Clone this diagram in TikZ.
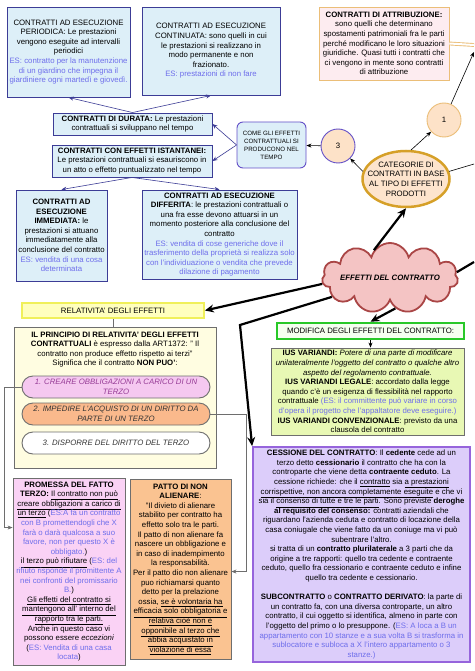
\documentclass[tikz,border=0pt]{standalone}
\usepackage{fontspec}
\setmainfont{Liberation Sans}
\usetikzlibrary{arrows.meta, shapes.geometric, shapes.symbols}
\definecolor{boxfill}{RGB}{221,239,248}
\definecolor{boxline}{RGB}{60,60,150}
\definecolor{esblue}{RGB}{110,110,235}
\definecolor{attrfill}{RGB}{253,236,240}
\definecolor{attrline}{RGB}{235,190,120}
\definecolor{bubblefill}{RGB}{253,226,200}
\definecolor{bubbleblue}{RGB}{100,80,200}
\definecolor{catline}{RGB}{214,160,40}
\definecolor{catfill}{RGB}{253,228,205}
\definecolor{cloudfill}{RGB}{244,196,196}
\definecolor{cloudline}{RGB}{170,70,70}
\definecolor{relfill}{RGB}{255,255,190}
\definecolor{relline}{RGB}{240,240,90}
\definecolor{princfill}{RGB}{255,253,225}
\definecolor{greyline}{RGB}{110,110,110}
\definecolor{pinkpill}{RGB}{245,200,240}
\definecolor{pinktext}{RGB}{150,60,150}
\definecolor{orangepill}{RGB}{250,185,140}
\definecolor{modline}{RGB}{40,200,40}
\definecolor{modfill}{RGB}{245,255,240}
\definecolor{iusfill}{RGB}{232,248,180}
\definecolor{cessfill}{RGB}{220,205,250}
\definecolor{cessline}{RGB}{150,100,220}
\definecolor{promfill}{RGB}{250,210,245}
\definecolor{pattofill}{RGB}{250,195,145}

\begin{document}
\begin{tikzpicture}[x=1pt, y=-1pt,
	every node/.style={font=\fontsize{7.8}{9.6}\selectfont, align=center, inner sep=0pt},
	bluebox/.style={draw=boxline, fill=boxfill, line width=0.9pt},
	greybox/.style={draw=greyline, line width=0.9pt},
	pill/.style={draw=greyline, line width=0.9pt, rounded corners=11pt, minimum width=188pt, minimum height=22pt},
	pilltext/.style={font=\fontsize{7.8}{9.6}\selectfont\itshape},
	bubble/.style={circle, fill=bubblefill, line width=0.9pt, minimum size=34pt},
	thinarrow/.style={-{Stealth[length=5pt,width=4pt]}, line width=0.6pt},
	fatarrow/.style={-{Stealth[length=9pt,width=8pt]}, line width=2.2pt},
]

	\fill[white] (0,0) rectangle (474,671);
	\useasboundingbox (0,0) rectangle (474,671);

	% Top row
	\node[bluebox, minimum width=123pt, minimum height=90pt] (periodica) at (68.5,52) {};
	\node (periodicatxt) at (periodica) {CONTRATTI AD ESECUZIONE\\PERIODICA: Le prestazioni\\vengono eseguite ad intervalli\\periodici\\
		\textcolor{esblue}{ES: contratto per la manutenzione}\\\textcolor{esblue}{di un giardino che impegna il}\\\textcolor{esblue}{giardiniere ogni martedì e giovedì.}};
	\node[bluebox, minimum width=138pt, minimum height=88pt] (continuata) at (211,51) {};
	\node (continuatatxt) at (continuata) {CONTRATTI AD ESECUZIONE\\CONTINUATA: sono quelli in cui\\le prestazioni si realizzano in\\modo permanente e non\\frazionato.\\
		\textcolor{esblue}{ES: prestazioni di non fare}};
	\node[draw=attrline, fill=attrfill, line width=0.9pt, minimum width=130pt, minimum height=73pt] (attr) at (384,43.5) {};
	\node (attrtxt) at (attr) {\textbf{CONTRATTI DI ATTRIBUZIONE:}\\sono quelli che determinano\\spostamenti patrimoniali fra le parti\\perché modificano le loro situazioni\\giuridiche. Quasi tutti i contratti che\\ci vengono in mente sono contratti\\di attribuzione};

	% Durata / istantanei
	\node[bluebox, minimum width=159pt, minimum height=22pt] (durata) at (132.5,124) {};
	\node (duratatxt) at (durata) {\textbf{CONTRATTI DI DURATA:} Le prestazioni\\contrattuali si sviluppano nel tempo};
	\node[bluebox, minimum width=160pt, minimum height=32pt] (ist) at (132,161) {};
	\node (isttxt) at (ist) {\textbf{CONTRATTI CON EFFETTI ISTANTANEI:}\\Le prestazioni contrattuali si esauriscono in\\un atto o effetto puntualizzato nel tempo};
	\node[draw=bubbleblue, fill=boxfill, line width=0.9pt, rounded corners=6pt, minimum width=69pt, minimum height=46pt] (come) at (271.5,145) {};
	\node[font=\fontsize{6.2}{8}\selectfont] (cometxt) at (come) {COME GLI EFFETTI\\CONTRATTUALI SI\\PRODUCONO NEL\\TEMPO};
	\node[bubble, draw=bubbleblue] (c3) at (338,146) {3};
	\node[bubble, draw=attrline] (c1) at (444,120) {1};
	\node[ellipse, draw=catline, fill=catfill, line width=2.5pt, minimum width=87pt, minimum height=56pt] (cat) at (406,179) {};
	\node (cattxt) at (cat) {CATEGORIE DI\\CONTRATTI IN BASE\\AL TIPO DI EFFETTI\\PRODOTTI};

	% Immediata / differita
	\node[bluebox, minimum width=91pt, minimum height=91pt] (imm) at (61.5,235.5) {};
	\node (immtxt) at (imm) {\textbf{CONTRATTI AD}\\\textbf{ESECUZIONE}\\\textbf{IMMEDIATA:} le\\prestazioni si attuano\\immediatamente alla\\conclusione del contratto\\
		\textcolor{esblue}{ES: vendita di una cosa}\\\textcolor{esblue}{determinata}};
	\node[bluebox, minimum width=155pt, minimum height=89pt] (diff) at (219.5,234.5) {};
	\node (difftxt) at (diff) {\textbf{CONTRATTI AD ESECUZIONE}\\\textbf{DIFFERITA}: le prestazioni contrattuali o\\una fra esse devono attuarsi in un\\momento posteriore alla conclusione del\\contratto\\
		\textcolor{esblue}{ES: vendita di cose generiche dove il}\\\textcolor{esblue}{trasferimento della proprietà si realizza solo}\\\textcolor{esblue}{con l'individuazione o vendita che prevede}\\\textcolor{esblue}{dilazione di pagamento}};

	% Cloud
	\node[cloud, cloud puffs=11, cloud ignores aspect, draw=cloudline, fill=cloudfill, line width=1.8pt, minimum width=136pt, minimum height=70pt] (eff) at (390,278) {};
	\node[font=\fontsize{7.8}{9.6}\selectfont\bfseries\itshape] (efftxt) at (eff) {EFFETTI DEL CONTRATTO};

	% Relativita'
	\node[draw=relline, fill=relfill, line width=1.8pt, minimum width=182pt, minimum height=15pt] (rel) at (113,310.5) {RELATIVITA' DEGLI EFFETTI};
	\node[greybox, fill=princfill, minimum width=202pt, minimum height=141pt] (princ) at (115,397.5) {};
	\node (princtxt) at (115,349.5) {\textbf{IL PRINCIPIO DI RELATIVITA' DEGLI EFFETTI}\\\textbf{CONTRATTUALI} è espresso dalla ART1372: " Il\\contratto non produce effetto rispetto ai terzi"\\Significa che il contratto \textbf{NON PUO'}:};
	\node[pill, fill=pinkpill] (p1) at (116,387) {};
	\node[pilltext, text=pinktext] (p1txt) at (p1) {1. CREARE OBBLIGAZIONI A CARICO DI UN\\TERZO};
	\node[pill, fill=orangepill] (p2) at (116,414) {};
	\node[pilltext, text=black!80] (p2txt) at (p2) {2. IMPEDIRE L'ACQUISTO DI UN DIRITTO DA\\PARTE DI UN TERZO};
	\node[pill, fill=white] (p3) at (116,443) {};
	\node[pilltext, text=black!80] (p3txt) at (p3) {3. DISPORRE DEL DIRITTO DEL TERZO};

	\node[greybox, fill=promfill, minimum width=112pt, minimum height=187pt] (prom) at (69,571.5) {};
	\node (promtxt) at (prom) {\textbf{PROMESSA DEL FATTO}\\\textbf{TERZO:} \underline{Il contratto non può}\\\underline{creare obbligazioni a carico di}\\
		\underline{un terzo} (\textcolor{esblue}{ES:A fa un contratto}\\\textcolor{esblue}{con B promettendogli che X}\\\textcolor{esblue}{farà o darà qualcosa a suo}\\\textcolor{esblue}{favore, non per questo X è}\\\textcolor{esblue}{obbligato.})\\
		\underline{il terzo può rifiutare} (\textcolor{esblue}{ES: del}\\\textcolor{esblue}{rifiuto risponde il promittente A}\\\textcolor{esblue}{nei confronti del promissario}\\\textcolor{esblue}{B.})\\
		\underline{Gli effetti del contratto si}\\\underline{mantengono all' interno del}\\\underline{rapporto tra le parti.}\\
		Anche in questo caso vi\\possono essere \textit{eccezioni}\\(\textcolor{esblue}{ES: Vendita di una casa}\\\textcolor{esblue}{locata})};
	\node[greybox, fill=pattofill, minimum width=101pt, minimum height=180pt] (patto) at (180.5,569) {};
	\node (pattotxt) at (patto) {\textbf{PATTO DI NON}\\\textbf{ALIENARE}:\\"Il divieto di alienare\\stabilito per contratto ha\\effetto solo tra le parti.\\Il patto di non alienare fa\\nascere un obbligazione e\\in caso di inadempimento\\la responsabilità.\\
		Per il patto dio non alienare\\puo richiamarsi quanto\\detto per la prelazione\\ossia, \underline{se è volontaria ha}\\\underline{efficacia solo obbligatoria e}\\\underline{relativa cioè non è}\\\underline{opponibile al terzo che}\\\underline{abbia acquistato in}\\\underline{violazione di essa}};

	% Modifica
	\node[draw=modline, fill=modfill, line width=2.5pt, minimum width=187pt, minimum height=16pt] (mod) at (370.5,331) {MODIFICA DEGLI EFFETTI DEL CONTRATTO:};
	\node[greybox, fill=iusfill, minimum width=193pt, minimum height=87pt] (ius) at (367.5,391.5) {};
	\node (iustxt) at (ius) {\textbf{IUS VARIANDI:} \textit{Potere di una parte di modificare}\\\textit{unilateralmente l'oggetto del contratto o qualche altro}\\\textit{aspetto del regolamento contrattuale.}\\
		\textbf{IUS VARIANDI LEGALE}: accordato dalla legge\\quando c'è un esigenza di flessibilità nel rapporto\\contrattuale \textcolor{esblue}{(ES: il committente può variare in corso}\\\textcolor{esblue}{d'opera il progetto che l'appaltatore deve eseguire.)}\\
		\textbf{IUS VARIANDI CONVENZIONALE}: previsto da una\\clausola del contratto};
	\node[draw=cessline, fill=cessfill, line width=1.8pt, minimum width=217pt, minimum height=215pt] (cess) at (361.5,554.5) {};
	\node (cesstxt) at (cess) {\textbf{CESSIONE DEL CONTRATTO}: Il \textbf{cedente} cede ad un\\terzo detto \textbf{cessionario} il contratto che ha con la\\controparte che viene detta \textbf{contraente ceduto}. La\\
		cessione richiede: che il \underline{contratto} sia \underline{a prestazioni}\\\underline{corrispettive, non ancora completamente eseguite} e che vi\\sia il \underline{consenso di tutte e tre le parti}. Sono previste \textbf{deroghe}\\
		\textbf{al requisito del consenso:} contratti aziendali che\\riguardano l'azienda ceduta e contratto di locazione della\\casa coniugale che viene fatto da un coniuge ma vi può\\subentrare l'altro.\\
		si tratta di un \textbf{contratto plurilaterale} a 3 parti che da\\origine a tre rapporti: quello tra cedente e contraente\\ceduto, quello fra cessionario e contraente ceduto e infine\\quello tra cedente e cessionario.\\[9.6pt]
		\textbf{SUBCONTRATTO} o \textbf{CONTRATTO DERIVATO}: la parte di\\un contratto fa, con una diversa controparte, un altro\\contratto, il cui oggetto si identifica, almeno in parte con\\
		l'oggetto del primo o lo presuppone. (\textcolor{esblue}{ES: A loca a B un}\\\textcolor{esblue}{appartamento con 10 stanze e a sua volta B si trasforma in}\\\textcolor{esblue}{sublocatore e subloca a X l'intero appartamento o 3}\\\textcolor{esblue}{stanze.)}};

	% Free ends at the right edge
	\coordinate (attrend) at (474,45);
	\coordinate (c1end) at (474,52);
	\coordinate (catend) at (474,164);
	\coordinate (effend) at (474,262);
	\coordinate (cessbend) at (240,325);

	% Connectors
	\draw[thinarrow, boxline] (durata.north) -- (periodica.south);
	\draw[thinarrow, boxline] (durata.north) -- (continuata.south);
	\draw[thinarrow, boxline] (ist.south) -- (imm.north);
	\draw[thinarrow, boxline] (ist.south) -- (diff.north);
	\draw[thinarrow, boxline] (come.west) -- (durata.east);
	\draw[thinarrow, boxline] (come.west) -- (ist.east);
	\draw[thinarrow] (c3) -- (come);
	\draw[thinarrow] (cat.170) -- (c3);
	\draw[thinarrow] (cat.80) -- (c1);
	\draw[thinarrow] (c1) -- (c1end);
	\draw[attrline, double=white, double distance=2pt, line width=0.9pt] (attr.east) -- (attrend);
	\draw[line width=0.6pt] (cat.10) -- (catend);

	\draw[fatarrow] (eff.120) -- (cat.south);
	\draw[line width=2.2pt] (eff.5) -- (effend);
	\draw[fatarrow] (eff.185) -- (rel.east);
	\draw[fatarrow] (eff.198) -- (cessbend) -- (cess.north west);
	\draw[fatarrow] (eff.280) -- (mod.north);

	\draw[line width=0.6pt, greyline] (rel.south) -- (rel.south |- princ.north);
	\draw[thinarrow] (mod.south) -- (mod.south |- ius.north);
	\draw[thinarrow, greyline] (p1.west) -- ++(-17,0) |- ([yshift=-50pt]prom.north west);
	\draw[thinarrow, greyline] (p2.east) -- ++(36,0) |- ([yshift=-93pt]patto.north east);

\end{tikzpicture}
\end{document}
